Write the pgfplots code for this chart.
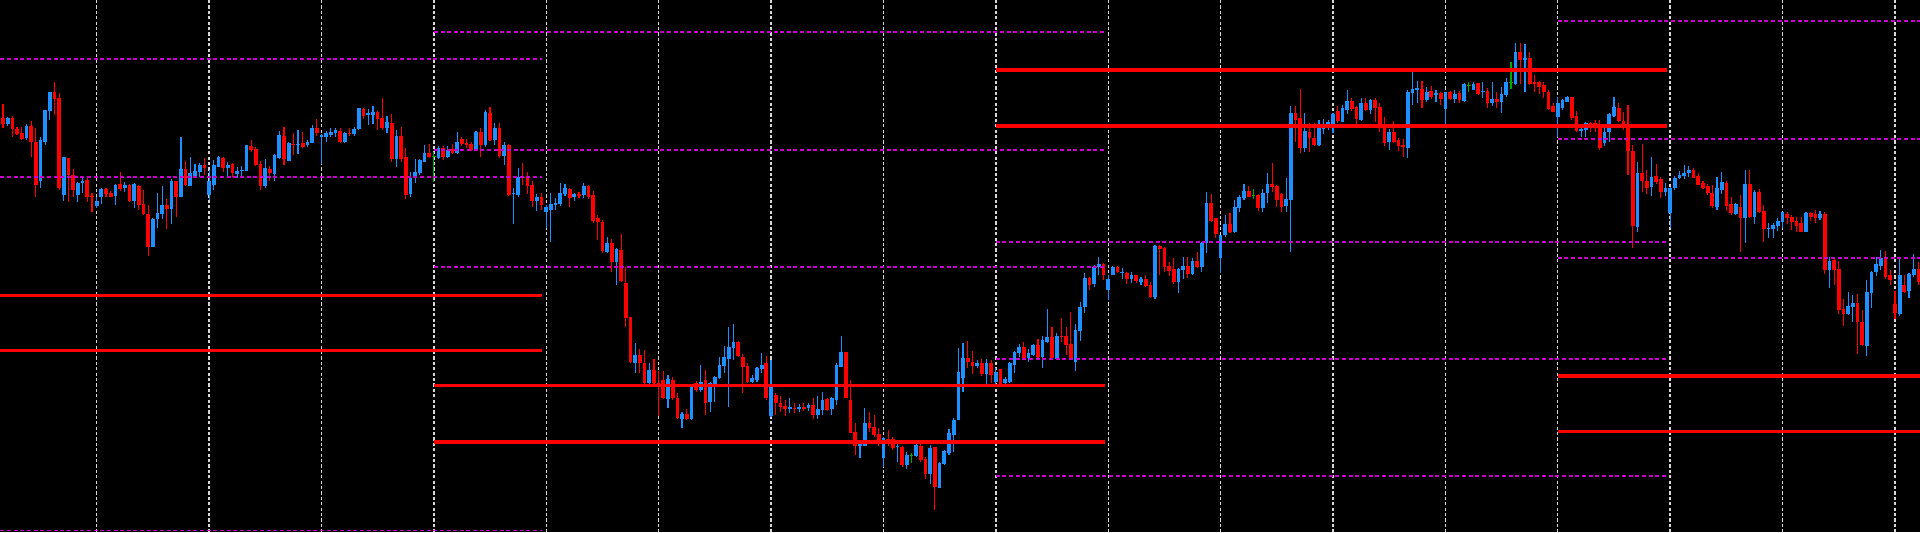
\documentclass[border=0pt]{standalone}
\usepackage{pgfplots}
\usepackage{pgfplotstable}
\pgfplotsset{compat=1.18}
\definecolor{cup}{RGB}{30,144,255}
\definecolor{cdn}{RGB}{255,0,0}
\definecolor{cdoji}{RGB}{0,170,0}
\definecolor{pivm}{RGB}{204,0,204}
\definecolor{gridc}{RGB}{215,215,215}
\pgfplotstableread{
j o h l c
0 118 104 128 124
1 124 117 126 118
2 118 116 137 129
3 129 127 135 134
4 133 127 140 139
5 138 124 140 126
6 126 121 157 142
7 142 128 197 185
8 181 137 188 140
9 142 110 145 110
10 111 92 120 92
11 92 82 115 99
12 98 93 190 188
13 195 157 201 157
14 158 158 202 175
15 175 169 197 190
16 195 182 202 183
17 183 177 193 181
18 180 178 202 197
19 196 193 212 197
20 206 197 208 201
21 197 188 204 189
22 189 188 197 194
23 193 191 197 197
24 196 184 205 185
25 184 172 191 189
26 188 182 192 185
27 185 184 202 201
28 201 183 208 184
29 186 185 210 205
30 204 190 215 214
31 214 205 256 247
32 247 218 247 219
33 219 193 228 213
34 214 186 219 205
35 205 199 229 209
36 209 179 224 181
37 181 181 217 197
38 197 137 197 169
39 169 161 186 185
40 186 157 186 173
41 176 164 177 171
42 172 163 177 165
43 165 158 175 168
44 195 170 200 181
45 185 160 190 165
46 167 156 167 157
47 158 157 172 168
48 168 162 177 165
49 164 163 177 173
50 174 167 178 171
51 171 166 177 170
52 171 145 171 145
53 146 140 152 150
54 149 147 166 165
55 164 161 190 186
56 186 159 188 168
57 169 166 181 173
58 174 154 181 155
59 158 131 159 135
60 136 127 165 159
61 161 142 161 143
62 144 133 155 145
63 145 130 154 144
64 143 132 148 147
65 145 140 147 142
66 143 125 143 128
67 128 119 136 133
68 137 134 164 135
69 137 131 142 133
70 135 128 137 132
71 133 128 137 130
72 131 128 143 142
73 142 132 143 133
74 133 128 136 134
75 134 127 136 129
76 129 108 130 108
77 109 108 119 116
78 115 109 125 113
79 115 106 124 112
80 112 111 130 119
81 118 98 130 128
82 128 116 133 122
83 123 114 162 159
84 159 130 167 136
85 136 127 162 159
86 157 148 199 195
87 194 172 197 178
88 178 159 183 172
89 173 159 175 160
90 162 145 162 153
91 153 144 158 157
92 156 152 182 156
93 158 146 159 148
94 148 146 160 157
95 157 146 158 150
96 149 144 154 153
97 153 132 154 142
98 139 137 146 144
99 143 139 148 145
100 144 142 151 150
101 150 131 151 132
102 132 128 157 145
103 145 110 147 112
104 113 107 141 140
105 140 123 145 128
106 128 123 158 156
107 156 142 165 145
108 145 144 196 195
109 194 188 224 193
110 195 168 197 177
111 177 163 185 178
112 178 172 194 186
113 185 181 207 201
114 201 194 211 197
115 197 193 210 205
116 212 205 228 207
117 210 193 242 204
118 205 198 210 203
119 204 183 206 193
120 194 184 196 188
121 189 188 207 198
122 197 193 201 194
123 194 192 198 196
124 195 183 198 186
125 186 185 199 197
126 195 191 223 221
127 218 215 240 222
128 222 220 253 251
129 252 237 253 243
130 243 239 272 262
131 262 248 285 249
132 250 234 282 281
133 283 267 327 318
134 317 317 363 362
135 363 343 373 355
136 355 349 373 363
137 363 350 384 383
138 383 363 384 370
139 370 359 384 383
140 383 371 416 385
141 380 371 399 398
142 399 375 408 379
143 380 377 400 398
144 398 393 419 418
145 419 412 428 414
146 414 409 420 419
147 419 384 420 385
148 383 381 392 390
149 390 365 392 382
150 380 370 415 403
151 402 382 412 383
152 385 376 402 377
153 378 357 379 365
154 366 346 373 357
155 359 327 407 347
156 348 324 360 342
157 342 341 357 356
158 357 354 393 367
159 366 363 383 382
160 382 375 383 378
161 380 367 382 368
162 369 353 373 365
163 363 356 400 398
164 416 360 417 385
165 395 393 415 403
166 403 396 412 407
167 406 400 416 409
168 409 398 413 407
169 408 403 413 409
170 409 404 412 407
171 407 403 411 409
172 408 403 411 405
173 405 398 419 415
174 415 396 419 409
175 410 392 415 400
176 399 398 411 410
177 409 397 415 398
178 400 363 405 365
179 367 336 367 352
180 352 352 398 398
181 400 380 433 433
182 432 423 455 446
183 446 442 458 444
184 446 408 446 423
185 423 412 432 428
186 427 415 437 435
187 434 428 446 441
188 458 437 467 438
189 439 430 446 444
190 439 437 450 448
191 447 443 462 446
192 447 446 467 465
193 465 452 469 455
194 455 453 463 455
195 456 443 457 445
196 446 443 462 460
197 459 457 479 474
198 474 445 484 448
199 447 447 510 487
200 488 462 488 463
201 464 450 465 451
202 453 429 455 433
203 435 418 452 420
204 420 348 420 372
205 378 343 392 358
206 358 341 368 362
207 362 351 374 366
208 366 360 368 363
209 363 359 376 374
210 374 359 384 363
211 363 360 383 375
212 382 368 385 372
213 369 369 385 384
214 383 377 384 379
215 382 362 383 363
216 365 351 373 352
217 353 344 357 347
218 347 342 360 358
219 358 349 362 353
220 355 344 356 345
221 345 339 358 357
222 357 336 368 340
223 342 309 343 337
224 337 327 360 358
225 359 333 360 336
226 336 318 342 337
227 336 327 355 345
228 344 312 360 359
229 362 324 371 330
230 331 302 341 307
231 307 273 313 278
232 278 277 290 285
233 284 265 287 267
234 267 257 275 264
235 264 263 280 275
236 290 275 300 279
237 275 266 275 267
238 267 266 273 272
239 273 268 279 272
240 273 272 284 279
241 279 272 283 275
242 275 275 283 281
243 282 277 285 279
244 279 275 287 286
245 285 282 298 297
246 297 245 299 246
247 246 245 275 249
248 248 247 272 267
249 266 262 276 271
250 269 258 284 282
251 282 268 293 269
252 270 257 279 266
253 266 257 278 274
254 274 258 275 261
255 261 252 268 267
256 267 242 272 243
257 243 192 253 203
258 203 194 222 221
259 218 218 238 234
260 258 235 273 235
261 235 215 237 224
262 224 213 233 232
263 232 200 233 207
264 208 195 212 197
265 198 184 200 191
266 191 186 197 197
267 195 189 199 195
268 195 194 211 208
269 208 189 212 193
270 193 173 203 184
271 184 163 192 187
272 186 185 207 200
273 194 193 212 207
274 206 178 212 199
275 200 106 252 113
276 113 106 142 120
277 118 89 153 148
278 148 113 152 131
279 132 123 152 138
280 138 123 146 145
281 145 120 146 127
282 129 119 134 126
283 127 120 130 122
284 125 113 133 114
285 111 106 123 121
286 122 105 122 108
287 110 90 114 101
288 101 98 111 109
289 107 106 125 119
290 120 98 121 103
291 103 98 111 110
292 110 99 114 100
293 100 98 122 108
294 107 103 132 127
295 126 117 146 143
296 142 129 150 132
297 132 121 143 142
298 140 138 151 146
299 145 139 157 147
300 148 90 158 92
301 93 71 105 89
302 90 81 103 88
303 89 81 108 100
304 100 87 102 92
305 91 86 99 97
306 95 90 102 93
307 93 92 105 99
308 109 92 127 92
309 92 91 100 99
310 99 90 103 94
311 93 91 103 100
312 101 83 102 84
313 85 82 92 85
314 90 82 90 84
315 83 83 95 94
316 92 82 98 91
317 91 88 108 103
318 103 82 106 99
319 99 92 108 102
320 102 87 113 94
321 95 78 97 82
322 82 62 89 82
323 84 43 85 52
324 52 43 84 60
325 60 44 92 58
326 58 52 85 84
327 82 75 92 84
328 82 81 94 87
329 85 82 98 92
330 92 90 110 109
331 106 103 112 112
332 117 97 137 103
333 108 99 110 100
334 102 96 102 97
335 97 97 120 118
336 116 111 132 131
337 131 125 137 129
338 130 122 137 123
339 123 122 132 127
340 123 120 132 125
341 124 120 150 148
342 143 127 146 132
343 132 113 142 114
344 116 97 117 107
345 108 103 122 121
346 121 112 130 128
347 124 105 175 151
348 151 145 248 226
349 227 162 232 173
350 173 144 192 181
351 181 170 194 188
352 187 157 196 177
353 176 164 184 182
354 179 177 198 192
355 192 183 196 188
356 213 187 228 188
357 188 176 190 178
358 178 171 179 175
359 176 165 179 173
360 173 166 177 170
361 170 168 178 178
362 176 173 185 185
363 183 181 189 188
364 186 184 195 193
365 193 185 208 206
366 207 177 210 188
367 190 172 194 182
368 183 181 211 206
369 204 197 215 213
370 214 203 215 204
371 207 195 252 218
372 218 170 243 184
373 184 170 218 217
374 217 190 224 192
375 192 189 213 212
376 211 205 242 229
377 229 223 238 228
378 229 223 238 225
379 226 218 231 221
380 222 212 228 212
381 214 212 224 218
382 217 215 230 222
383 221 217 232 226
384 223 217 232 232
385 232 212 232 213
386 213 212 221 217
387 214 210 223 218
388 218 211 220 214
389 214 212 274 270
390 270 257 288 261
391 260 259 285 270
392 269 261 314 310
393 309 299 326 314
394 314 292 315 306
395 307 295 322 303
396 303 294 354 322
397 322 310 346 345
398 346 280 356 292
399 293 271 308 272
400 272 257 276 264
401 266 250 270 258
402 258 251 279 277
403 275 270 285 280
404 304 291 319 313
405 314 258 316 275
406 285 275 293 292
407 291 273 298 274
408 275 254 277 269
409 269 262 285 282
}\candles

\newcommand\candleplot[3]{%
  \addplot[draw=#1, line width=0.55pt, -, forget plot,
    restrict expr to domain={\thisrow{c}-\thisrow{o}}{#2:#3},
    quiver={u=0, v=\thisrow{l}-\thisrow{h}, scale arrows=1}]
    table[x=j, y=h] {\candles};
  \addplot[draw=#1, line width=1.85pt, -, forget plot,
    restrict expr to domain={\thisrow{c}-\thisrow{o}}{#2:#3},
    quiver={u=0, v={max(abs(\thisrow{c}-\thisrow{o}),1)}, scale arrows=1}]
    table[x=j, y expr={min(\thisrow{o},\thisrow{c})-0.5*(\thisrow{c}==\thisrow{o})}] {\candles};
}

\begin{document}
\begin{tikzpicture}
\begin{axis}[
  scale only axis, width=960pt, height=266pt,
  xmin=-0.64, xmax=409.35, ymin=0, ymax=532, y dir=reverse,
  enlargelimits=false,
  axis background/.style={fill=black},
  axis line style={draw=none},
  tick style={draw=none},
  xtick={20,44,...,404}, xticklabels={}, ytick=\empty,
  xmajorgrids,
  major grid style={gridc, line width=0.7pt, dash pattern=on 1.6pt off 1.1pt},
]
\candleplot{cup}{-1000}{-0.1}
\candleplot{cdn}{0.1}{1000}
\candleplot{cdoji}{-0.05}{0.05}

% segment A
\addplot[pivm, line width=0.95pt, dash pattern=on 2pt off 1.33pt, forget plot] coordinates {(-2,59) (115.2,59)};
\addplot[pivm, line width=0.95pt, dash pattern=on 2pt off 1.33pt, forget plot] coordinates {(-2,177) (115.2,177)};
\addplot[pivm, line width=0.95pt, dash pattern=on 2pt off 1.33pt, forget plot] coordinates {(-2,530.5) (115.2,530.5)};
\addplot[cdn, line width=1.8pt, forget plot] coordinates {(-2,295.3) (115.2,295.3)};
\addplot[cdn, line width=1.8pt, forget plot] coordinates {(-2,350.3) (115.2,350.3)};
% segment B
\addplot[pivm, line width=0.95pt, dash pattern=on 2pt off 1.33pt, forget plot] coordinates {(92,32) (235.3,32)};
\addplot[pivm, line width=0.95pt, dash pattern=on 2pt off 1.33pt, forget plot] coordinates {(92,150) (235.3,150)};
\addplot[pivm, line width=0.95pt, dash pattern=on 2pt off 1.33pt, forget plot] coordinates {(92,267.3) (235.3,267.3)};
\addplot[cdn, line width=1.8pt, forget plot] coordinates {(92,385.3) (235.3,385.3)};
\addplot[cdn, line width=1.8pt, forget plot] coordinates {(92,441.7) (235.3,441.7)};
% segment C
\addplot[cdn, line width=1.8pt, forget plot] coordinates {(212,70) (355.3,70)};
\addplot[cdn, line width=1.8pt, forget plot] coordinates {(212,125.7) (355.3,125.7)};
\addplot[pivm, line width=0.95pt, dash pattern=on 2pt off 1.33pt, forget plot] coordinates {(212,242.3) (355.3,242.3)};
\addplot[pivm, line width=0.95pt, dash pattern=on 2pt off 1.33pt, forget plot] coordinates {(212,359.2) (355.3,359.2)};
\addplot[pivm, line width=0.95pt, dash pattern=on 2pt off 1.33pt, forget plot] coordinates {(212,476) (355.3,476)};
% segment D
\addplot[pivm, line width=0.95pt, dash pattern=on 2pt off 1.33pt, forget plot] coordinates {(332,20.8) (412,20.8)};
\addplot[pivm, line width=0.95pt, dash pattern=on 2pt off 1.33pt, forget plot] coordinates {(332,139.3) (412,139.3)};
\addplot[pivm, line width=0.95pt, dash pattern=on 2pt off 1.33pt, forget plot] coordinates {(332,257.7) (412,257.7)};
\addplot[cdn, line width=1.8pt, forget plot] coordinates {(332,376) (412,376)};
\addplot[cdn, line width=1.8pt, forget plot] coordinates {(332,431.5) (412,431.5)};
\end{axis}
\pgfresetboundingbox
\path[use as bounding box] (current axis.south west) rectangle (current axis.north east);
\end{tikzpicture}
\end{document}
